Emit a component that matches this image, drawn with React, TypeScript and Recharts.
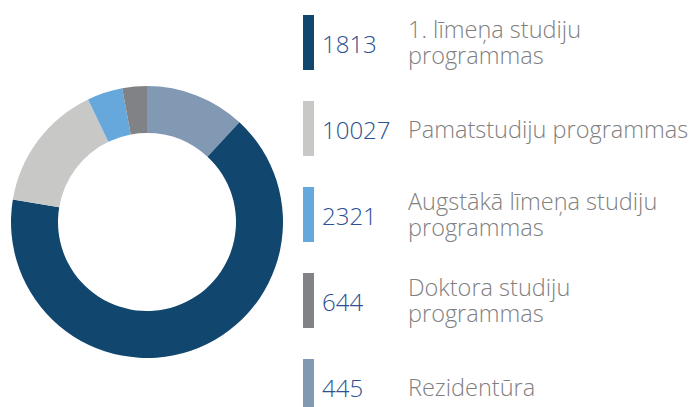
import React from "react";
import { PieChart, Pie, Cell, Legend } from "recharts";

const values = [1813, 10027, 2321, 644, 445];
const labels = [
  ["1. līmeņa studiju", "programmas"],
  ["Pamatstudiju programmas"],
  ["Augstākā līmeņa studiju", "programmas"],
  ["Doktora studiju", "programmas"],
  ["Rezidentūra"],
];
const legendColors = ["#11466f", "#c8c8c7", "#66a7dc", "#808285", "#8299b3"];
const sliceColors = ["#8299b3", "#11466f", "#c8c8c7", "#66a7dc", "#808285"];

const data = values.map((v, i) => ({ name: labels[i].join(" "), value: v }));

const textFont = "'Open Sans', 'Noto Sans', sans-serif";
const numFont = "'Open Sans', 'Noto Sans', sans-serif";

const LegendContent = () => (
  <svg width={400} height={407} style={{ display: "block" }}>
    {values.map((v, i) => {
      const top = 15 + i * 86;
      const mid = top + 27.5;
      const lines = labels[i];
      const single = lines.length === 1;
      return (
        <g key={i}>
          <rect x={12} y={top} width={11} height={55} fill={legendColors[i]} />
          <text x={31} y={mid + 10} fill="#2b5191" fontFamily={numFont} fontWeight={300} fontSize={24}>
            {v}
          </text>
          {single ? (
            <text x={117} y={mid + 9} fill="#808080" fontFamily={textFont} fontWeight={300} fontSize={23.5}>
              {lines[0]}
            </text>
          ) : (
            <g>
              <text x={117} y={mid - 4.5} fill="#808080" fontFamily={textFont} fontWeight={300} fontSize={23.5}>
                {lines[0]}
              </text>
              <text x={117} y={mid + 21.5} fill="#808080" fontFamily={textFont} fontWeight={300} fontSize={23.5}>
                {lines[1]}
              </text>
            </g>
          )}
        </g>
      );
    })}
  </svg>
);

export default function App() {
  return (
    <div style={{ position: "absolute", left: 0, top: 0, width: 693, height: 407, background: "#fff" }}>
      <PieChart width={693} height={407} margin={{ top: 0, right: 0, bottom: 0, left: 0 }}>
        <Pie
          data={data}
          dataKey="value"
          nameKey="name"
          cx={147}
          cy={222}
          innerRadius={89}
          outerRadius={136}
          startAngle={90}
          endAngle={-270}
          stroke="none"
          isAnimationActive={false}
        >
          {data.map((d, i) => (
            <Cell key={i} fill={sliceColors[i]} stroke="none" />
          ))}
        </Pie>
        <Legend
          layout="vertical"
          content={LegendContent}
          wrapperStyle={{ position: "absolute", left: 291, top: 0, width: 400, height: 407 }}
        />
      </PieChart>
    </div>
  );
}
